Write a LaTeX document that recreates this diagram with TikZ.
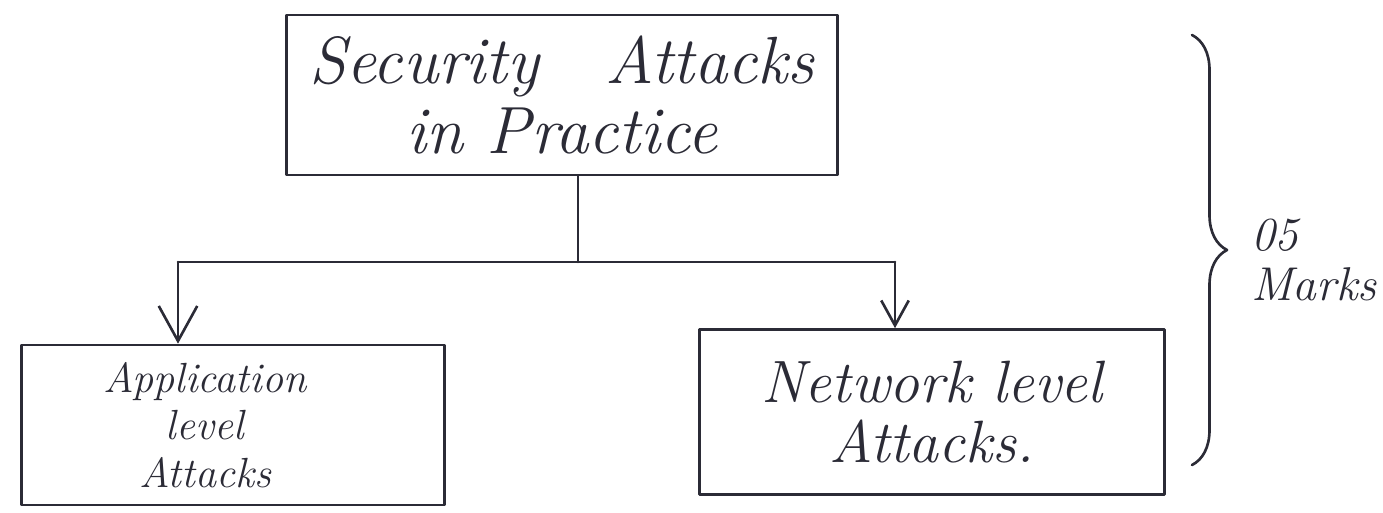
\documentclass[tikz,border=0pt]{standalone}
\usetikzlibrary{arrows.meta,decorations.pathreplacing}
\definecolor{ink}{HTML}{2B2B36}
\begin{document}
\begin{tikzpicture}[x=0.02cm,y=-0.02cm,
  ink line/.style={draw=ink,line width=1.5pt,line cap=round,line join=round},
  boxnode/.style={ink line,rectangle,inner sep=0pt,align=center,text=ink,font=\itshape},
  barb/.style={-{Straight Barb[length=#1,width=1.1*#1,line width=1.5pt]}},
]
\useasboundingbox (0,0) rectangle (1383,513);

% the three boxes
\node[boxnode,minimum width=11.02cm,minimum height=3.2cm,
      font=\itshape\fontsize{38}{40}\selectfont] (top) at (562,95)
      {Security\quad Attacks\\ in Practice};
\node[boxnode,minimum width=8.46cm,minimum height=3.2cm] (app) at (233,425) {};
\node[text=ink,align=center,inner sep=0pt,
      font=\itshape\fontsize{24}{27}\selectfont] (apptext) at (205,425)
      {Application\\ level\\ Attacks};
\node[boxnode,minimum width=9.3cm,minimum height=3.3cm,
      font=\itshape\fontsize{34}{34}\selectfont] (net) at (932,412)
      {Network level\\ Attacks.};

% branching connector
\coordinate (jm) at (578,262);
\coordinate (jl) at (178,262);
\coordinate (jr) at (895,262);
\draw[ink line] (top.south -| jm) -- (jm);
\draw[ink line] (jl) -- (jr);
\draw[ink line,barb=7mm] (jl) -- (jl |- app.north);
\draw[ink line,barb=5mm] (jr) -- (jr |- net.north);

% brace with the marks
\coordinate (bt) at (1192,35);
\coordinate (bb) at (1192,465);
\draw[ink line,decorate,decoration={brace,amplitude=0.7cm}] (bt) -- (bb);
\node[text=ink,align=left,font=\itshape\fontsize{27}{28}\selectfont,anchor=west] (marks) at (1245,260)
      {05\\ Marks};
\end{tikzpicture}
\end{document}
